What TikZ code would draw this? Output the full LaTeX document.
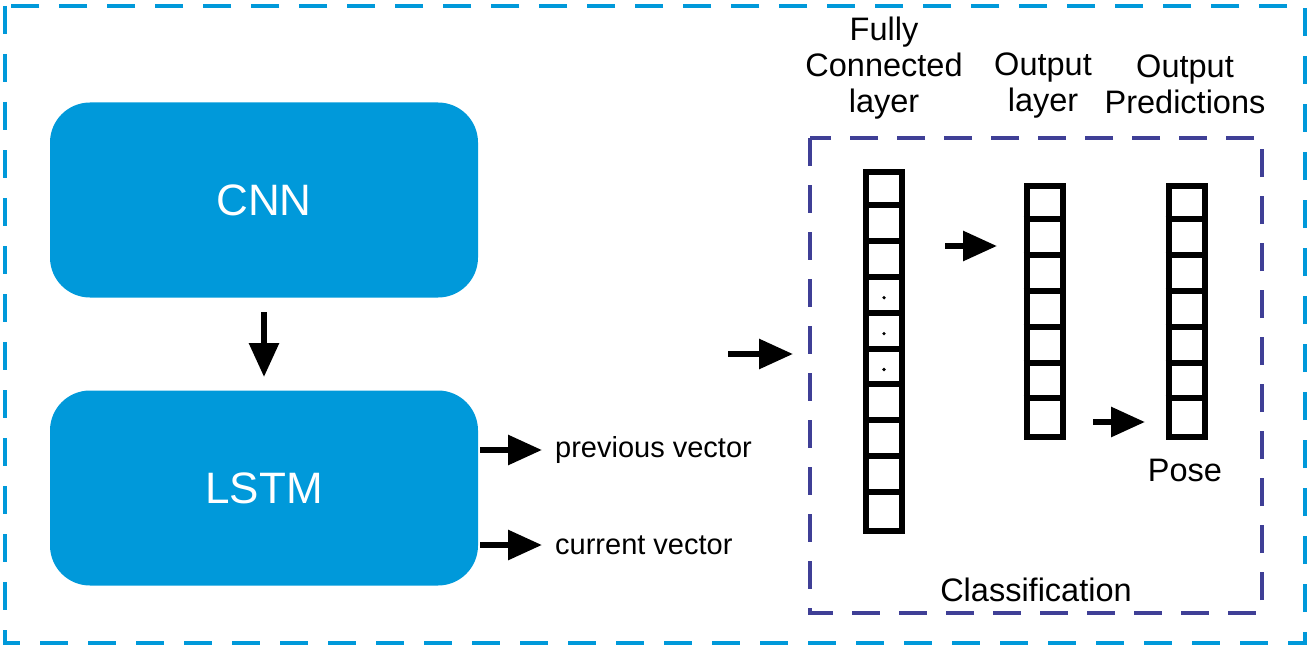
\documentclass[tikz,border=0pt]{standalone}
\usepackage{fontspec}
\setmainfont{Liberation Sans}
\usetikzlibrary{arrows.meta}
\definecolor{boxblue}{RGB}{0,153,218}
\definecolor{purp}{RGB}{63,63,150}
\begin{document}
\begin{tikzpicture}[x=1pt,y=-1pt,
  outerborder/.style={draw=boxblue,line width=4.5pt,dash pattern=on 28pt off 20pt},
  innerborder/.style={draw=purp,line width=4.5pt,dash pattern=on 28pt off 19pt},
  bluebox/.style={fill=boxblue,rounded corners=40pt,minimum width=428pt,minimum height=195pt,text=white,font=\fontsize{44}{46}\selectfont,inner sep=0pt},
  bigarrow/.style={line width=6pt,-{Triangle[length=34pt,width=29pt]}},
  colbox/.style={draw=black,line width=6pt,minimum width=36pt,inner sep=0pt},
  cellline/.style={line width=6pt},
  lbl/.style={font=\fontsize{32.5}{36}\selectfont,align=center,inner sep=0pt},
  vlbl/.style={font=\fontsize{29}{32}\selectfont,anchor=west,inner sep=0pt}]
\useasboundingbox (0,0) rectangle (1311,650);
\draw[outerborder] (5,6) rectangle (1305,643);
\draw[innerborder] (810,138) rectangle (1262,613);
\node[bluebox] (cnn) at (264,200) {CNN};
\node[bluebox] (lstm) at (264,488) {LSTM};
\coordinate (a1s) at (264,312); \coordinate (a1e) at (264,377);
\draw[bigarrow] (a1s) -- (a1e);
\coordinate (p1) at (480,450); \coordinate (p2) at (542,450);
\coordinate (c1) at (480,545); \coordinate (c2) at (542,545);
\draw[bigarrow] (p1) -- (p2);
\draw[bigarrow] (c1) -- (c2);
\node[vlbl] (prev) at (555,450) {previous vector};
\node[vlbl] (curr) at (555,545) {current vector};
\coordinate (i1) at (728,354); \coordinate (i2) at (793,354);
\draw[bigarrow] (i1) -- (i2);
% columns
\node[colbox,minimum height=359pt] (fc) at (884,351.5) {};
\foreach \k in {1,...,9} \draw[cellline] (fc.north west) ++(0,\k*35.9) -- ++(40,0);
\foreach \k in {3,4,5} \fill (884,172+\k*35.9+18) circle (1.8pt);
\node[colbox,minimum height=251pt] (ol) at (1044.5,311.5) {};
\foreach \k in {1,...,6} \draw[cellline] (ol.north west) ++(0,\k*35.9) -- ++(41,0);
\node[colbox,minimum height=251pt] (op) at (1186.5,311.5) {};
\foreach \k in {1,...,6} \draw[cellline] (op.north west) ++(0,\k*35.9) -- ++(41,0);
\coordinate (f1) at (945,246); \coordinate (f2) at (997,246);
\draw[bigarrow] (f1) -- (f2);
\coordinate (o1) at (1093,422); \coordinate (o2) at (1145,422);
\draw[bigarrow] (o1) -- (o2);
\node[lbl] (fcl) at (884,68) {Fully\\Connected\\layer};
\node[lbl] (oll) at (1043,86) {Output\\layer};
\node[lbl] (opl) at (1185,84) {Output\\Predictions};
\node[lbl] (pose) at (1185,470) {Pose};
\node[lbl] (cls) at (1036,590) {Classification};
\end{tikzpicture}
\end{document}
